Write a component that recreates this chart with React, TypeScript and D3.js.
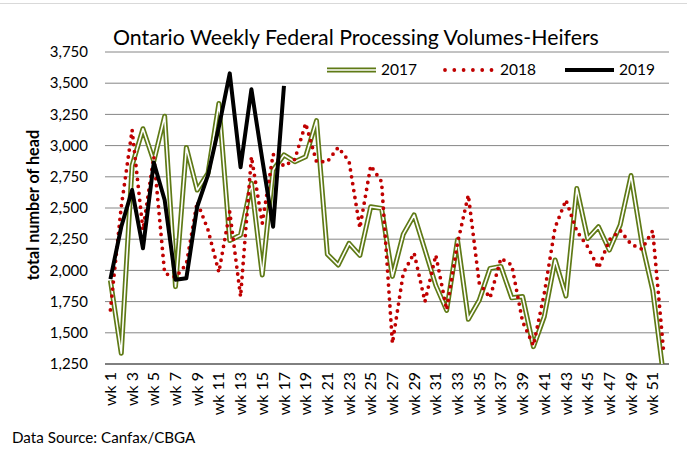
import React from 'react';
import * as d3 from 'd3';

const weeks = Array.from({ length: 52 }, (_, i) => `wk ${i + 1}`);
const shownWeeks = weeks.filter((_, i) => i % 2 === 0);
const yTicks = [1250, 1500, 1750, 2000, 2250, 2500, 2750, 3000, 3250, 3500, 3750];

const heifers2017 = [
  1920, 1336, 2840, 3135, 2875, 3235, 1870, 2985, 2644, 2780,
  3338, 2240, 2284, 2698, 1963, 2804, 2925, 2871, 2911, 3200,
  2130, 2043, 2217, 2120, 2510, 2497, 1952, 2290, 2444, 2163,
  1880, 1680, 2245, 1608, 1760, 2016, 2032, 1780, 1790, 1389,
  1630, 2083, 1795, 2657, 2255, 2350, 2163, 2364, 2760, 2220,
  1840, 1150,
];
const heifers2018 = [
  1683, 2510, 3125, 2324, 2911, 1977, 1945, 2050, 2550, 2324,
  1985, 2470, 1790, 2911, 2377, 2930, 2835, 2890, 3178, 2871,
  2871, 2986, 2875, 2340, 2839, 2711, 1416, 1977, 2140, 1750,
  2123, 1685, 2217, 2604, 1900, 1780, 2097, 2043, 1590, 1398,
  1815, 2345, 2564, 2315, 2190, 2018, 2245, 2320, 2210, 2170,
  2318, 1355,
];
const heifers2019 = [
  1930, 2350, 2644, 2177, 2865, 2564, 1925, 1937, 2510, 2765,
  3150, 3579, 2826, 3451, 2890, 2350, 3478,
];

const FONT = "Lato, 'Open Sans', sans-serif";
const OLIVE = '#5f7a16';
const RED = '#c00000';

export default function App() {
  const width = 687;
  const height = 449;
  const margin = { top: 52, right: 18, bottom: 85, left: 105 };
  const innerW = width - margin.left - margin.right;
  const innerH = height - margin.top - margin.bottom;

  const x = d3.scaleBand().domain(weeks).range([0, innerW]);
  const y = d3.scaleLinear().domain([1250, 3750]).range([innerH, 0]);
  const cx = (i: number) => (x(weeks[i]) || 0) + x.bandwidth() / 2;

  const line = d3.line<number>()
    .x((_, i) => cx(i))
    .y(d => y(d));

  return (
    <svg width={width} height={height} style={{ position: 'absolute', left: 0, top: 0, background: '#fff' }} fontFamily={FONT}>
      <line x1={0} x2={width} y1={3.5} y2={3.5} stroke="#d9d9d9" />
      <text x={113} y={45} fontSize={21.3} fill="#000">Ontario Weekly Federal Processing Volumes-Heifers</text>

      <defs>
        <clipPath id="plot">
          <rect x={0} y={-6} width={innerW} height={innerH + 6} />
        </clipPath>
      </defs>

      <g transform={`translate(${margin.left},${margin.top})`}>
        {yTicks.map(t => (
          <g key={t}>
            <line x1={0} x2={innerW} y1={y(t)} y2={y(t)} stroke={t === 1250 ? '#000' : '#868686'} strokeWidth={1} />
            <text x={-17} y={y(t)} dy="0.35em" textAnchor="end" fontSize={15} fill="#000">{d3.format(',')(t)}</text>
          </g>
        ))}
        {shownWeeks.map(w => (
          <text key={w}
            transform={`translate(${(x(w) || 0) + x.bandwidth() / 2},${innerH + 8}) rotate(-90)`}
            textAnchor="end" dy="0.35em" fontSize={16} fill="#000">{w}</text>
        ))}

        <g clipPath="url(#plot)" fill="none" strokeLinejoin="round">
          <path d={line(heifers2017) || ''} stroke={OLIVE} strokeWidth={5} />
          <path d={line(heifers2017) || ''} stroke="#fff" strokeWidth={1.6} />
          <path d={line(heifers2018) || ''} stroke={RED} strokeWidth={3.8} strokeDasharray="0 7" strokeLinecap="round" />
          <path d={line(heifers2019) || ''} stroke="#000" strokeWidth={4} />
        </g>
      </g>

      <text transform="translate(39,205) rotate(-90)" textAnchor="middle" fontSize={16.2} fontWeight="bold" fill="#000">total number of head</text>

      <g fontSize={15.5} fill="#000">
        <line x1={327} x2={376} y1={70} y2={70} stroke={OLIVE} strokeWidth={5} />
        <line x1={327} x2={376} y1={70} y2={70} stroke="#fff" strokeWidth={1.6} />
        <text x={381} y={70} dy="0.35em">2017</text>
        <line x1={445} x2={494} y1={70} y2={70} stroke={RED} strokeWidth={3.8} strokeDasharray="0 9.3" strokeLinecap="round" />
        <text x={500} y={70} dy="0.35em">2018</text>
        <line x1={565} x2={614} y1={70} y2={70} stroke="#000" strokeWidth={4} />
        <text x={619} y={70} dy="0.35em">2019</text>
      </g>

      <text x={12} y={443} fontSize={15.2} fill="#000">Data Source: Canfax/CBGA</text>
    </svg>
  );
}
